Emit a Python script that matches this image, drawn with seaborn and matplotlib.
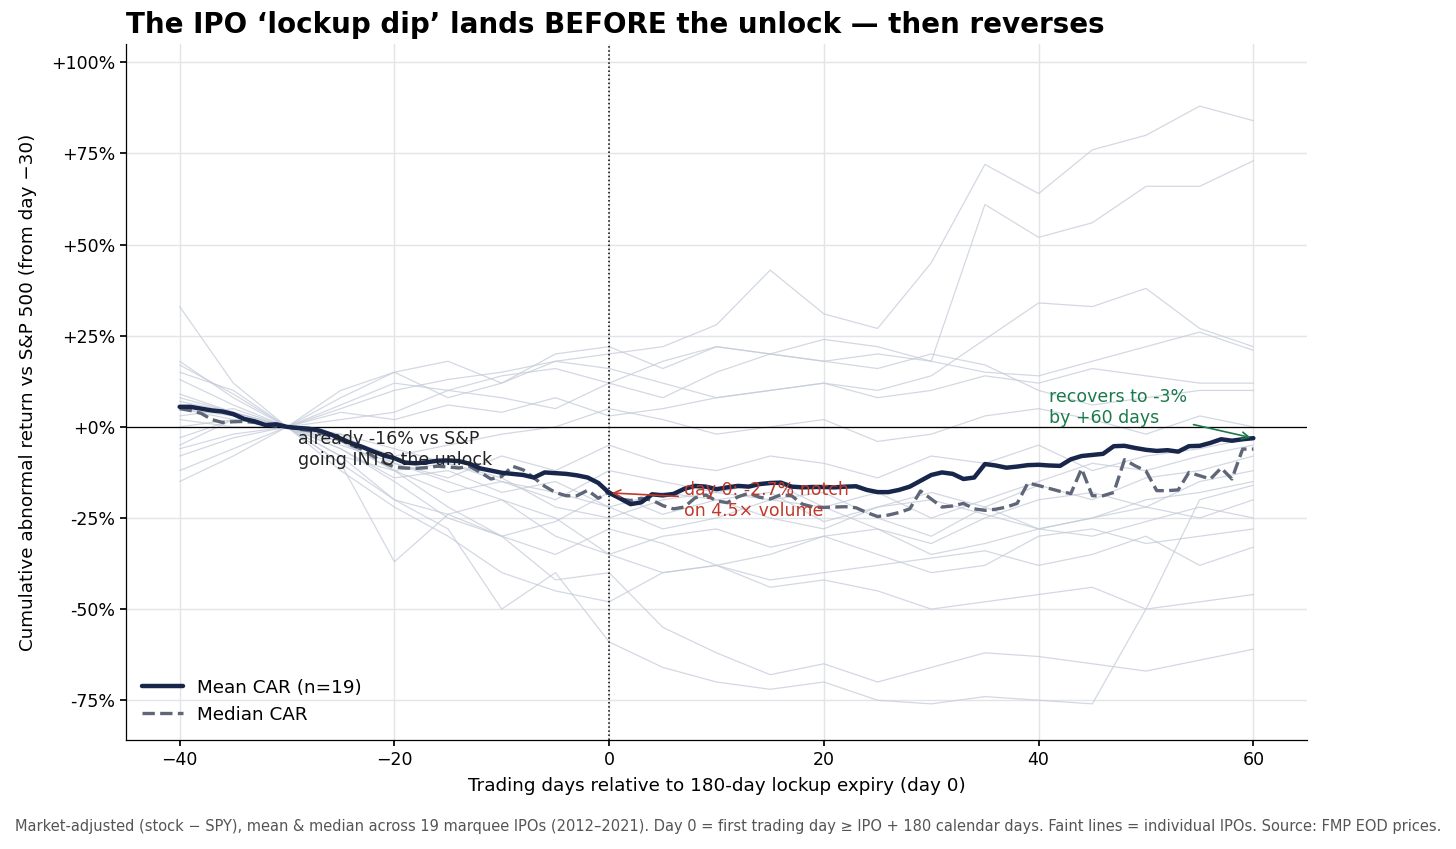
import matplotlib
matplotlib.use("Agg")
import pandas as pd
import matplotlib.pyplot as plt
import seaborn as sns

# trading days around lockup expiry
days = list(range(-40, 61))
ipo_days = list(range(-40, 61, 5))

# mean / median cumulative abnormal return (%), one value per day -40..60
mean_car = [
    5.5, 5.5, 5.0, 4.5, 4.2, 3.5, 2.2, 1.5, 0.5, 0.7,
    0.0, -0.3, -0.5, -1.0, -2.0, -3.2, -4.5, -5.5, -6.7, -7.8,
    -8.6, -9.8, -10.0, -9.7, -9.3, -9.2, -9.4, -10.1, -11.4, -12.0,
    -12.6, -12.9, -13.2, -13.9, -12.5, -12.7, -12.9, -13.3, -13.9, -15.4,
    -18.1, -19.6, -21.2, -20.7, -18.5, -18.8, -18.4, -17.0, -16.2, -16.4,
    -17.1, -16.6, -16.2, -16.4, -15.7, -15.4, -15.3, -16.4, -16.6, -16.5,
    -16.5, -16.6, -16.4, -16.3, -17.3, -17.9, -17.9, -17.3, -16.4, -14.8,
    -13.2, -12.5, -12.9, -14.3, -13.9, -10.2, -10.6, -11.2, -10.9, -10.5,
    -10.4, -10.6, -10.7, -8.9, -8.0, -7.7, -7.4, -5.3, -5.2, -5.8,
    -6.3, -6.6, -6.4, -6.8, -5.3, -5.2, -4.4, -3.4, -3.8, -3.4,
    -3.1,
]
median_car = [
    5.0, 4.5, 3.7, 2.0, 1.2, 1.4, 1.5, 1.2, 0.6, 0.2,
    0.0, -0.6, -1.0, -1.5, -2.5, -3.6, -5.0, -6.2, -8.0, -9.8,
    -11.0, -11.3, -11.4, -11.2, -10.8, -11.0, -11.3, -10.8, -12.5, -14.3,
    -13.6, -10.8, -11.8, -14.0, -16.3, -18.0, -18.9, -18.9, -17.4, -19.6,
    -17.8, -19.8, -20.2, -19.6, -20.1, -21.6, -22.5, -22.0, -19.5, -18.7,
    -20.3, -20.8, -19.2, -18.2, -19.3, -19.8, -18.6, -18.9, -21.2, -22.0,
    -22.1, -22.0, -21.9, -22.2, -23.5, -24.6, -24.2, -23.5, -22.5, -17.6,
    -19.8, -22.0, -21.7, -21.0, -22.5, -22.9, -22.6, -22.0, -21.0, -15.4,
    -16.1, -16.9, -17.7, -18.3, -11.5, -18.9, -18.9, -18.0, -9.0, -10.7,
    -12.1, -17.5, -17.5, -17.3, -12.5, -13.4, -14.3, -11.3, -14.3, -6.1,
    -6.1,
]

# individual IPO paths (%), every 5 days -40..60 (read approx. off the faint lines)
ipo_01 = [33, 12, 0, 5, 10, 13, 15, 18, 20, 22, 28, 43, 31, 27, 45, 72, 64, 76, 80, 88, 84]
ipo_02 = [8, 4, 0, 6, 12, 10, 14, 16, 12, 18, 22, 20, 24, 22, 18, 61, 52, 56, 66, 66, 73]
ipo_03 = [-5, 2, 0, 4, 2, 6, 4, 8, 3, 5, 8, 10, 12, 10, 14, 24, 34, 33, 38, 27, 22]
ipo_04 = [18, 8, 0, 8, 15, 18, 12, 20, 22, 16, 22, 20, 18, 20, 18, 15, 14, 18, 22, 26, 21]
ipo_05 = [5, 3, 0, 10, 15, 8, 12, 18, 16, 12, 8, 10, 12, 8, 10, 14, 12, 16, 14, 12, 12]
ipo_06 = [15, 10, 0, 2, 4, 10, 8, 5, 12, 8, 15, 20, 18, 16, 20, 17, 10, 6, 8, 10, 10]
ipo_07 = [3, 5, 0, -3, -8, -5, -2, 0, 5, 2, -2, 0, 2, -4, -2, 3, 5, 2, -2, 3, 0]
ipo_08 = [-3, 2, 0, -5, -10, -14, -8, -12, -5, -10, -12, -8, -10, -14, -8, -10, -5, -12, -8, -6, -3]
ipo_09 = [9, 4, 0, -8, -12, -18, -15, -20, -12, -15, -18, -20, -22, -18, -25, -20, -15, -10, -12, -8, -5]
ipo_10 = [2, 0, 0, -4, -12, -10, -15, -18, -22, -18, -20, -25, -28, -22, -18, -22, -16, -20, -14, -12, -8]
ipo_11 = [17, 9, 0, -2, -6, -10, -14, -22, -25, -20, -18, -15, -22, -28, -32, -25, -20, -18, -22, -15, -12]
ipo_12 = [-8, -3, 0, -6, -14, -12, -18, -15, -22, -28, -25, -20, -18, -25, -30, -22, -28, -25, -20, -18, -15]
ipo_13 = [-12, -6, 0, -2, -10, -15, -20, -25, -35, -30, -28, -33, -30, -28, -35, -32, -28, -25, -22, -25, -20]
ipo_14 = [0, 2, 0, -8, -20, -24, -30, -26, -18, -24, -20, -18, -26, -22, -20, -24, -28, -30, -26, -22, -25]
ipo_15 = [13, 6, 0, -4, -12, -22, -30, -35, -28, -32, -38, -35, -30, -35, -40, -38, -30, -28, -32, -30, -28]
ipo_16 = [7, 4, 0, -10, -37, -24, -20, -30, -35, -40, -38, -42, -40, -38, -36, -34, -38, -35, -30, -38, -33]
ipo_17 = [-15, -8, 0, -12, -22, -30, -40, -45, -48, -40, -38, -44, -42, -45, -50, -48, -46, -44, -50, -48, -46]
ipo_18 = [5, 2, 0, -6, -15, -25, -30, -42, -40, -55, -62, -68, -65, -70, -66, -62, -63, -65, -67, -64, -61]
ipo_19 = [-6, -2, 0, -10, -20, -28, -50, -40, -59, -66, -70, -72, -70, -75, -76, -74, -75, -76, -50, -20, -16]

ipo_paths = [ipo_01, ipo_02, ipo_03, ipo_04, ipo_05, ipo_06, ipo_07, ipo_08, ipo_09, ipo_10,
             ipo_11, ipo_12, ipo_13, ipo_14, ipo_15, ipo_16, ipo_17, ipo_18, ipo_19]

y_ticks = [-75, -50, -25, 0, 25, 50, 75, 100]
x_ticks = [-40, -20, 0, 20, 40, 60]

# long-form frame for the faint lines
rows = []
for i, path in enumerate(ipo_paths):
    for d, v in zip(ipo_days, path):
        rows.append({"ipo": i, "day": d, "car": v})
df_ipo = pd.DataFrame(rows)

sns.set_theme(style="whitegrid", rc={
    "axes.edgecolor": "black",
    "axes.linewidth": 0.9,
    "grid.color": "#e2e4e8",
    "grid.linewidth": 1.0,
    "xtick.bottom": True,
    "ytick.left": True,
    "xtick.major.size": 4,
    "ytick.major.size": 4,
    "xtick.color": "black",
    "ytick.color": "black",
    "text.color": "black",
    "axes.labelcolor": "black",
})
plt.rcParams["font.family"] = ["DejaVu Sans"]

fig, ax = plt.subplots(figsize=(14.56, 8.49), dpi=100)
fig.subplots_adjust(left=0.0865, right=0.8977, top=0.948, bottom=0.128)

sns.lineplot(data=df_ipo, x="day", y="car", units="ipo", estimator=None,
             color="#c4cbd9", linewidth=0.9, alpha=0.75, legend=False, ax=ax)

ax.axhline(0, color="black", linewidth=0.9, zorder=2)
ax.axvline(0, color="black", linewidth=1.1, linestyle=":", zorder=2)

sns.lineplot(x=days, y=mean_car, color="#17264a", linewidth=3.2,
             label="Mean CAR (n=19)", ax=ax, zorder=4)
sns.lineplot(x=days, y=median_car, color="#5e6678", linewidth=2.4, linestyle="--",
             label="Median CAR", ax=ax, zorder=3)

ax.set_xlim(-45, 65)
ax.set_ylim(-86, 105)
ax.set_xticks(x_ticks)
ax.set_yticks(y_ticks)
ax.set_yticklabels([f"{v:+d}%" for v in y_ticks])
ax.tick_params(labelsize=12.5)
for side in ["top", "right"]:
    ax.spines[side].set_visible(False)

ax.set_xlabel("Trading days relative to 180-day lockup expiry (day 0)", fontsize=13.2, labelpad=6)
ax.set_ylabel("Cumulative abnormal return vs S&P 500 (from day \u221230)", fontsize=13.2, labelpad=10)
ax.set_title("The IPO \u2018lockup dip\u2019 lands BEFORE the unlock \u2014 then reverses",
             loc="left", fontsize=20, fontweight="bold", pad=8)

# annotations
ax.text(-29, -0.8, "already -16% vs S&P\ngoing INTO the unlock", ha="left", va="top",
        fontsize=12.5, color="#222222", zorder=5)
ax.annotate("day 0: -2.7% notch\non 4.5\u00d7 volume", xy=(0, -18.1), xytext=(7, -20.3),
            ha="left", va="center", fontsize=12.5, color="#c0392b", zorder=5,
            arrowprops=dict(arrowstyle="->", color="#c0392b", lw=1.2))
ax.annotate("recovers to -3%\nby +60 days", xy=(60, -3.1), xytext=(41, 5.3),
            ha="left", va="center", fontsize=12.5, color="#1b7a4b", zorder=5,
            arrowprops=dict(arrowstyle="->", color="#1b7a4b", lw=1.2))

ax.legend(loc="lower left", frameon=False, fontsize=13.2, handlelength=2.2)

fig.text(0.5, 0.027,
         "Market-adjusted (stock \u2212 SPY), mean & median across 19 marquee IPOs (2012\u20132021). "
         "Day 0 = first trading day \u2265 IPO + 180 calendar days. Faint lines = individual IPOs. "
         "Source: FMP EOD prices.",
         ha="center", va="center", fontsize=10.5, color="#555555")

fig.savefig("out.png", dpi=100)
